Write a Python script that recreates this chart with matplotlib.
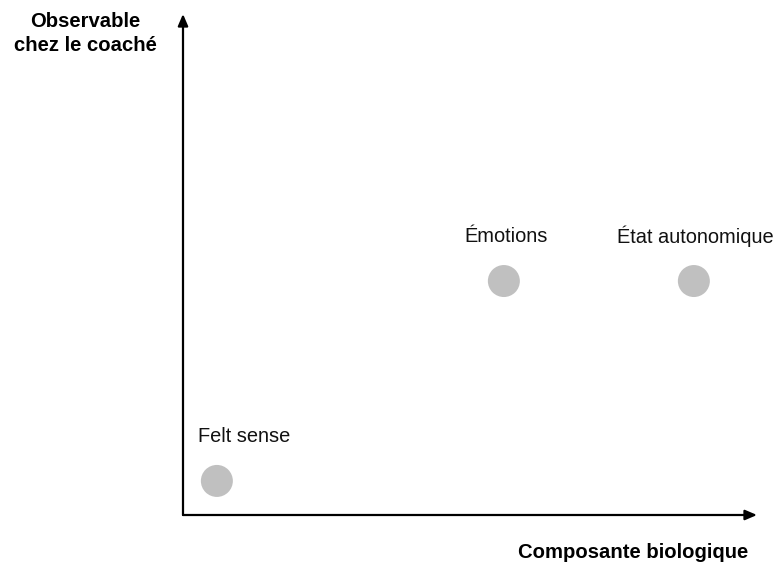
import matplotlib
matplotlib.use("Agg")
import matplotlib.pyplot as plt

plt.rcParams['font.family'] = ['Liberation Sans', 'DejaVu Sans']

labels = ["Felt sense", "Émotions", "État autonomique"]
x_vals = [0.59, 5.59, 8.9]
y_vals = [0.68, 4.67, 4.67]
label_x = [1.06, 5.63, 8.92]
label_y = [1.56, 5.55, 5.57]

x_title = "Composante biologique"
y_title = "Observable\nchez le coaché"

W, H = 775, 564
fig = plt.figure(figsize=(W / 100, H / 100), dpi=100)
ax = fig.add_axes([183 / W, (H - 515) / H, (757 - 183) / W, (515 - 14) / H])
ax.set_xlim(0, 10)
ax.set_ylim(0, 10)
ax.axis('off')

# axes arrows
ax.annotate('', xy=(1, 0), xytext=(0, 0), xycoords='axes fraction',
            arrowprops=dict(arrowstyle='-|>,head_length=0.7,head_width=0.3',
                            color='black', lw=1.6, shrinkA=0, shrinkB=0))
ax.annotate('', xy=(0, 1), xytext=(0, 0), xycoords='axes fraction',
            arrowprops=dict(arrowstyle='-|>,head_length=0.7,head_width=0.3',
                            color='black', lw=1.6, shrinkA=0, shrinkB=0))

ax.scatter(x_vals, y_vals, s=32 ** 2 * 0.72 ** 2, color='#c0c0c0',
           edgecolors='none', zorder=3, clip_on=False)

for lab, lx, ly in zip(labels, label_x, label_y):
    ax.text(lx, ly, lab, ha='center', va='center', fontsize=14.4, color='#111111')

fig.text(85 / W, 1 - 33.5 / H, y_title, ha='center', va='center',
         fontsize=14.6, fontweight='bold', linespacing=1.3)
fig.text(748 / W, 1 - 553 / H, x_title, ha='right', va='center',
         fontsize=14.6, fontweight='bold')

fig.savefig('out.png', dpi=100)
